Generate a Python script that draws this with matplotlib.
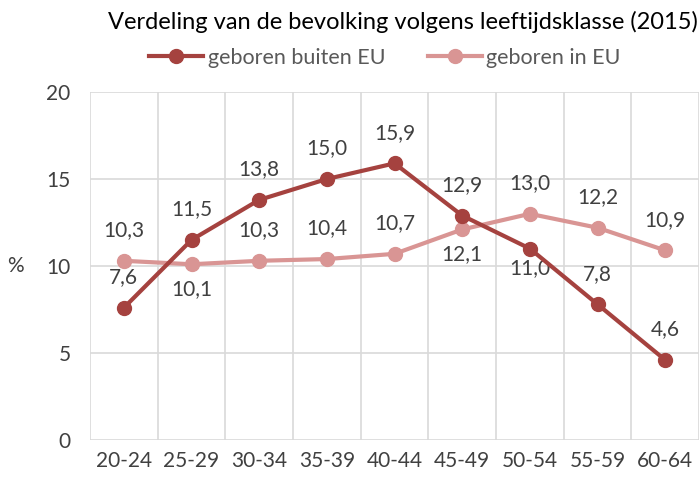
import matplotlib.pyplot as plt
import numpy as np

# leeftijdsklassen en percentages
klassen = ["20-24", "25-29", "30-34", "35-39", "40-44", "45-49", "50-54", "55-59", "60-64"]
buiten_eu = [7.6, 11.5, 13.8, 15.0, 15.9, 12.9, 11.0, 7.8, 4.6]
in_eu = [10.3, 10.1, 10.3, 10.4, 10.7, 12.1, 13.0, 12.2, 10.9]

# label above (1) or below (-1) the point
pos_buiten = [1, 1, 1, 1, 1, 1, -1, 1, 1]
pos_in = [1, -1, 1, 1, 1, -1, 1, 1, 1]

donker = "#A5423F"
licht = "#D99594"
tekst = "#404040"

plt.rcParams['font.family'] = ['Lato', 'DejaVu Sans']

fig = plt.figure(figsize=(7, 4.83), dpi=100)
ax = fig.add_axes([0.1286, 0.089, 0.870, 0.7205])

x = np.arange(len(klassen))
ax.plot(x, buiten_eu, color=donker, lw=3, marker='o', ms=10, label="geboren buiten EU", zorder=4)
ax.plot(x, in_eu, color=licht, lw=3, marker='o', ms=10, label="geboren in EU", zorder=3)

fs = 15
for xi, v, p in zip(x, buiten_eu, pos_buiten):
    off = 22 if p > 0 else -14
    ax.annotate(f"{v:.1f}".replace('.', ','), (xi, v), xytext=(0, off), textcoords='offset points',
                ha='center', va='center', fontsize=fs, color=tekst)
for xi, v, p in zip(x, in_eu, pos_in):
    off = 22 if p > 0 else -18
    ax.annotate(f"{v:.1f}".replace('.', ','), (xi, v), xytext=(0, off), textcoords='offset points',
                ha='center', va='center', fontsize=fs, color=tekst)

ax.set_xlim(-0.5, 8.5)
ax.set_ylim(0, 20)
ax.set_yticks([0, 5, 10, 15, 20])
ax.set_xticks(x)
ax.set_xticklabels(klassen)
ax.set_xticks(np.arange(-0.5, 9, 1), minor=True)
ax.grid(True, which='minor', axis='x', color='#D9D9D9', lw=1.2)
ax.grid(True, which='major', axis='y', color='#D9D9D9', lw=1.2)
ax.set_axisbelow(True)
for s in ax.spines.values():
    s.set_visible(False)
ax.tick_params(which='both', length=0, labelsize=fs, colors=tekst, pad=8)
ax.tick_params(axis='y', pad=14)

ax.set_ylabel("%", rotation=0, fontsize=fs, color=tekst, labelpad=22, va='center')

fig.text(0.575, 0.954, "Verdeling van de bevolking volgens leeftijdsklasse (2015)",
         ha='center', va='center', fontsize=17, color='black')

leg = fig.legend(loc='center', bbox_to_anchor=(0.55, 0.88), ncol=2, frameon=False,
                 fontsize=15.5, handlelength=2.5, handletextpad=0.2, columnspacing=2.0)
for t in leg.get_texts():
    t.set_color('#595959')

fig.savefig("out.png", dpi=100)
